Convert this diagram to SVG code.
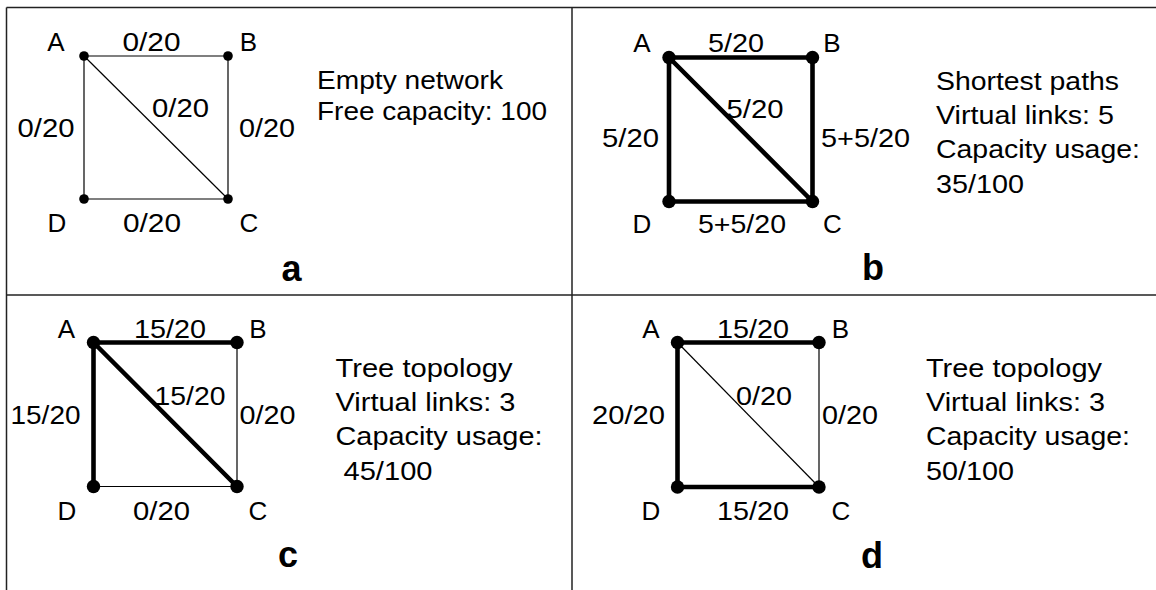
<svg xmlns="http://www.w3.org/2000/svg" width="1156" height="590" viewBox="0 0 1156 590">
  <style>
    text { font-family: "Liberation Sans", Arial, Helvetica, sans-serif; fill: #000; }
    .frame { stroke: #222; stroke-width: 1.5; fill: none; }
    .thin { stroke: #000; stroke-width: 1.2; fill: none; }
    .thick { stroke: #000; stroke-width: 4.6; fill: none; stroke-linecap: round; }
    .dot-s { fill: #000; }
    .dot-l { fill: #000; }
    .lbl { font-size: 26px; text-anchor: middle; }
    .note { font-size: 26px; }
    .tag { font-size: 36px; font-weight: bold; text-anchor: middle; }
  </style>
  <defs>
    <circle id="dotSmall" r="4.8" class="dot-s"/>
    <circle id="dotLarge" r="6.7" class="dot-l"/>
  </defs>

  <rect width="1156" height="590" fill="#fff"/>

  <!-- table frame -->
  <g id="frame">
    <line class="frame" x1="6.5" y1="7.5" x2="1156" y2="7.5"/>
    <line class="frame" x1="6.5" y1="7.5" x2="6.5" y2="590"/>
    <line class="frame" x1="572" y1="7.5" x2="572" y2="590"/>
    <line class="frame" x1="6.5" y1="295" x2="1156" y2="295"/>
  </g>

  <!-- panel a: empty network -->
  <g id="panel-a">
    <g id="a-connectors">
      <line class="thin" x1="84" y1="56" x2="228" y2="56"/>
      <line class="thin" x1="84" y1="56" x2="84" y2="199"/>
      <line class="thin" x1="228" y1="56" x2="228" y2="199"/>
      <line class="thin" x1="84" y1="199" x2="228" y2="199"/>
      <line class="thin" x1="84" y1="56" x2="228" y2="199"/>
      <text class="lbl" x="151.5" y="51" textLength="58" lengthAdjust="spacingAndGlyphs">0/20</text>
      <text class="lbl" x="46" y="137" textLength="57" lengthAdjust="spacingAndGlyphs">0/20</text>
      <text class="lbl" x="267" y="137" textLength="56" lengthAdjust="spacingAndGlyphs">0/20</text>
      <text class="lbl" x="180.5" y="117" textLength="57" lengthAdjust="spacingAndGlyphs">0/20</text>
      <text class="lbl" x="152" y="232" textLength="58" lengthAdjust="spacingAndGlyphs">0/20</text>
    </g>
    <g id="a-node-A"><use href="#dotSmall" x="84" y="56"/><text class="lbl" x="56" y="51">A</text></g>
    <g id="a-node-B"><use href="#dotSmall" x="228" y="56"/><text class="lbl" x="248.5" y="51">B</text></g>
    <g id="a-node-C"><use href="#dotSmall" x="228" y="199"/><text class="lbl" x="249" y="232">C</text></g>
    <g id="a-node-D"><use href="#dotSmall" x="84" y="199"/><text class="lbl" x="57" y="232">D</text></g>
    <g id="a-notes">
      <text class="note" x="317" y="89" textLength="186" lengthAdjust="spacingAndGlyphs">Empty network</text>
      <text class="note" x="317" y="120" textLength="230" lengthAdjust="spacingAndGlyphs">Free capacity: 100</text>
    </g>
    <text class="tag" x="291.5" y="281">a</text>
  </g>

  <!-- panel b: shortest paths -->
  <g id="panel-b">
    <g id="b-connectors">
      <line class="thick" x1="669" y1="57.5" x2="812.5" y2="57.5"/>
      <line class="thick" x1="669" y1="57.5" x2="669" y2="201.5"/>
      <line class="thick" x1="812.5" y1="57.5" x2="812.5" y2="201.5"/>
      <line class="thick" x1="669" y1="201.5" x2="812.5" y2="201.5"/>
      <line class="thick" x1="669" y1="57.5" x2="812.5" y2="201.5"/>
      <text class="lbl" x="736" y="52" textLength="56" lengthAdjust="spacingAndGlyphs">5/20</text>
      <text class="lbl" x="630.5" y="146.5" textLength="57" lengthAdjust="spacingAndGlyphs">5/20</text>
      <text class="lbl" x="755" y="117.5" textLength="57" lengthAdjust="spacingAndGlyphs">5/20</text>
      <text class="lbl" x="865.5" y="146.5" textLength="89" lengthAdjust="spacingAndGlyphs">5+5/20</text>
      <text class="lbl" x="742" y="233" textLength="88" lengthAdjust="spacingAndGlyphs">5+5/20</text>
    </g>
    <g id="b-node-A"><use href="#dotLarge" x="669" y="57.5"/><text class="lbl" x="642" y="52">A</text></g>
    <g id="b-node-B"><use href="#dotLarge" x="812.5" y="57.5"/><text class="lbl" x="832" y="52">B</text></g>
    <g id="b-node-C"><use href="#dotLarge" x="812.5" y="201.5"/><text class="lbl" x="832.5" y="233">C</text></g>
    <g id="b-node-D"><use href="#dotLarge" x="669" y="201.5"/><text class="lbl" x="642" y="233">D</text></g>
    <g id="b-notes">
      <text class="note" x="936" y="90" textLength="183" lengthAdjust="spacingAndGlyphs">Shortest paths</text>
      <text class="note" x="936" y="124" textLength="178" lengthAdjust="spacingAndGlyphs">Virtual links: 5</text>
      <text class="note" x="936" y="158" textLength="204" lengthAdjust="spacingAndGlyphs">Capacity usage:</text>
      <text class="note" x="936" y="192.5" textLength="88" lengthAdjust="spacingAndGlyphs">35/100</text>
    </g>
    <text class="tag" x="873" y="280">b</text>
  </g>

  <!-- panel c: tree topology via A -->
  <g id="panel-c">
    <g id="c-connectors">
      <line class="thin" x1="237" y1="342.5" x2="237" y2="486.5"/>
      <line class="thin" x1="93.5" y1="486.5" x2="237" y2="486.5"/>
      <line class="thick" x1="93.5" y1="342.5" x2="237" y2="342.5"/>
      <line class="thick" x1="93.5" y1="342.5" x2="93.5" y2="486.5"/>
      <line class="thick" x1="93.5" y1="342.5" x2="237" y2="486.5"/>
      <text class="lbl" x="170" y="338" textLength="72" lengthAdjust="spacingAndGlyphs">15/20</text>
      <text class="lbl" x="45.5" y="424" textLength="70" lengthAdjust="spacingAndGlyphs">15/20</text>
      <text class="lbl" x="190" y="405" textLength="71" lengthAdjust="spacingAndGlyphs">15/20</text>
      <text class="lbl" x="267.5" y="424" textLength="56" lengthAdjust="spacingAndGlyphs">0/20</text>
      <text class="lbl" x="161.5" y="520" textLength="57" lengthAdjust="spacingAndGlyphs">0/20</text>
    </g>
    <g id="c-node-A"><use href="#dotLarge" x="93.5" y="342.5"/><text class="lbl" x="66.5" y="338">A</text></g>
    <g id="c-node-B"><use href="#dotLarge" x="237" y="342.5"/><text class="lbl" x="258" y="338">B</text></g>
    <g id="c-node-C"><use href="#dotLarge" x="237" y="486.5"/><text class="lbl" x="258" y="520">C</text></g>
    <g id="c-node-D"><use href="#dotLarge" x="93.5" y="486.5"/><text class="lbl" x="67" y="520">D</text></g>
    <g id="c-notes">
      <text class="note" x="335.5" y="377" textLength="177" lengthAdjust="spacingAndGlyphs">Tree topology</text>
      <text class="note" x="335.5" y="411" textLength="180" lengthAdjust="spacingAndGlyphs">Virtual links: 3</text>
      <text class="note" x="335.5" y="445" textLength="207" lengthAdjust="spacingAndGlyphs">Capacity usage:</text>
      <text class="note" x="343.5" y="480" textLength="89" lengthAdjust="spacingAndGlyphs">45/100</text>
    </g>
    <text class="tag" x="288" y="566.5">c</text>
  </g>

  <!-- panel d: tree topology via D -->
  <g id="panel-d">
    <g id="d-connectors">
      <line class="thin" x1="819" y1="342.5" x2="819" y2="487"/>
      <line class="thin" x1="677.5" y1="342.5" x2="819" y2="487"/>
      <line class="thick" x1="677.5" y1="342.5" x2="819" y2="342.5"/>
      <line class="thick" x1="677.5" y1="342.5" x2="677.5" y2="487"/>
      <line class="thick" x1="677.5" y1="487" x2="819" y2="487"/>
      <text class="lbl" x="753" y="338" textLength="72" lengthAdjust="spacingAndGlyphs">15/20</text>
      <text class="lbl" x="628.5" y="424" textLength="73" lengthAdjust="spacingAndGlyphs">20/20</text>
      <text class="lbl" x="764" y="405" textLength="56" lengthAdjust="spacingAndGlyphs">0/20</text>
      <text class="lbl" x="850" y="424" textLength="56" lengthAdjust="spacingAndGlyphs">0/20</text>
      <text class="lbl" x="753" y="520" textLength="72" lengthAdjust="spacingAndGlyphs">15/20</text>
    </g>
    <g id="d-node-A"><use href="#dotLarge" x="677.5" y="342.5"/><text class="lbl" x="651" y="338">A</text></g>
    <g id="d-node-B"><use href="#dotLarge" x="819" y="342.5"/><text class="lbl" x="840.5" y="338">B</text></g>
    <g id="d-node-C"><use href="#dotLarge" x="819" y="487"/><text class="lbl" x="841" y="520">C</text></g>
    <g id="d-node-D"><use href="#dotLarge" x="677.5" y="487"/><text class="lbl" x="651" y="520">D</text></g>
    <g id="d-notes">
      <text class="note" x="926" y="377" textLength="176" lengthAdjust="spacingAndGlyphs">Tree topology</text>
      <text class="note" x="926" y="411" textLength="179" lengthAdjust="spacingAndGlyphs">Virtual links: 3</text>
      <text class="note" x="926" y="445" textLength="204" lengthAdjust="spacingAndGlyphs">Capacity usage:</text>
      <text class="note" x="926" y="480" textLength="88" lengthAdjust="spacingAndGlyphs">50/100</text>
    </g>
    <text class="tag" x="872" y="568">d</text>
  </g>
</svg>
